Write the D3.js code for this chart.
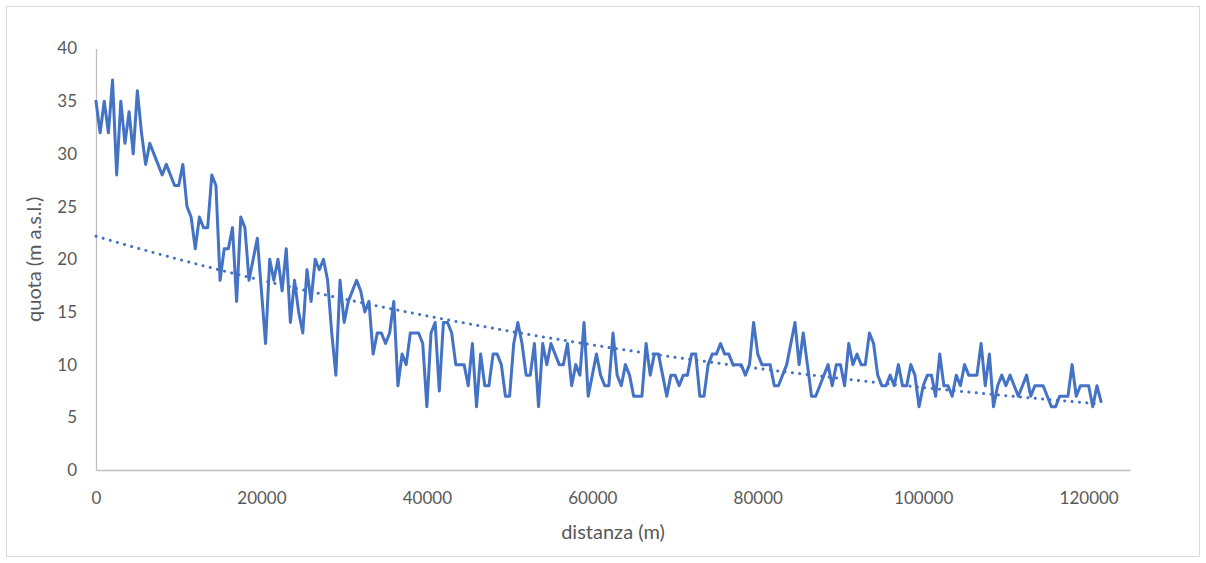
<!DOCTYPE html>
<html>
<head>
<meta charset="utf-8">
<script src="https://cdn.jsdelivr.net/npm/d3@7"></script>
<style>
  html, body { margin: 0; padding: 0; background: #fff; }
  svg { display: block; }
</style>
</head>
<body>
<svg id="chart" width="1206" height="563"></svg>
<script>
// ---- data ----
const distanza = [
  0,500,1000,1500,2000,2500,3000,3500,4000,4500,5000,5500,6000,6500,7000,7500,8000,8500,9000,9500,
  10000,10500,11000,11500,12000,12500,13000,13500,14000,14500,15000,15500,16000,16500,17000,17500,18000,18500,19000,19500,
  20000,20500,21000,21500,22000,22500,23000,23500,24000,24500,25000,25500,26000,26500,27000,27500,28000,28500,29000,29500,
  30000,30500,31000,31500,32000,32500,33000,33500,34000,34500,35000,35500,36000,36500,37000,37500,38000,38500,39000,39500,
  40000,40500,41000,41500,42000,42500,43000,43500,44000,44500,45000,45500,46000,46500,47000,47500,48000,48500,49000,49500,
  50000,50500,51000,51500,52000,52500,53000,53500,54000,54500,55000,55500,56000,56500,57000,57500,58000,58500,59000,59500,
  60000,60500,61000,61500,62000,62500,63000,63500,64000,64500,65000,65500,66000,66500,67000,67500,68000,68500,69000,69500,
  70000,70500,71000,71500,72000,72500,73000,73500,74000,74500,75000,75500,76000,76500,77000,77500,78000,78500,79000,79500,
  80000,80500,81000,81500,82000,82500,83000,83500,84000,84500,85000,85500,86000,86500,87000,87500,88000,88500,89000,89500,
  90000,90500,91000,91500,92000,92500,93000,93500,94000,94500,95000,95500,96000,96500,97000,97500,98000,98500,99000,99500,
  100000,100500,101000,101500,102000,102500,103000,103500,104000,104500,105000,105500,106000,106500,107000,107500,108000,108500,109000,109500,
  110000,110500,111000,111500,112000,112500,113000,113500,114000,114500,115000,115500,116000,116500,117000,117500,118000,118500,119000,119500,
  120000,120500,121000,121500
];
const quota = [
  35,32,35,32,37,28,35,31,34,30,36,32,29,31,30,29,28,29,28,27,
  27,29,25,24,21,24,23,23,28,27,18,21,21,23,16,24,23,18,20,22,
  17,12,20,18,20,17,21,14,18,15,13,19,16,20,19,20,18,13,9,18,
  14,16,17,18,17,15,16,11,13,13,12,13,16,8,11,10,13,13,13,12,
  6,13,14,7.5,14,14,13,10,10,10,8,12,6,11,8,8,11,11,10,7,
  7,12,14,12,9,9,12,6,12,10,12,11,10,10,12,8,10,9,14,7,
  9,11,9,8,8,13,9,8,10,9,7,7,7,12,9,11,11,9,7,9,
  9,8,9,9,11,11,7,7,10,11,11,12,11,11,10,10,10,9,10,14,
  11,10,10,10,8,8,9,10,12,14,10,13,10,7,7,8,9,10,8,10,
  10,8,12,10,11,10,10,13,12,9,8,8,9,8,10,8,8,10,9,6,
  8,9,9,7,11,8,8,7,9,8,10,9,9,9,12,8,11,6,8,9,
  8,9,8,7,8,9,7,8,8,8,7,6,6,7,7,7,10,7,8,8,
  8,6,8,6.5
];
const xTicks = [0, 20000, 40000, 60000, 80000, 100000, 120000];
const yTicks = [0, 5, 10, 15, 20, 25, 30, 35, 40];
const xTitle = "distanza (m)";
const yTitle = "quota (m a.s.l.)";

// ---- layout ----
const svg = d3.select("#chart");
const plot = { left: 96, right: 1130, top: 48.5, bottom: 470 };
const font = "Lato, 'Liberation Sans', sans-serif";
const blue = "#4472C4";

svg.append("rect")
  .attr("x", 6.5).attr("y", 6.5).attr("width", 1193).attr("height", 550)
  .attr("fill", "#fff").attr("stroke", "#D9D9D9").attr("stroke-width", 1);

const x = d3.scaleLinear().domain([0, 125000]).range([plot.left, plot.right]);
const y = d3.scaleLinear().domain([0, 40]).range([plot.bottom, plot.top]);

// axes
const xAxis = d3.axisBottom(x).tickValues(xTicks).tickSize(0).tickPadding(22).tickFormat(d3.format("d"));
const yAxis = d3.axisLeft(y).tickValues(yTicks).tickSize(0).tickPadding(19).tickFormat(d3.format("d"));

const gx = svg.append("g").attr("transform", `translate(0,${plot.bottom})`).call(xAxis);
const gy = svg.append("g").attr("transform", `translate(${plot.left},0)`).call(yAxis);
[gx, gy].forEach(g => {
  g.select(".domain").attr("stroke", "#BFBFBF").attr("stroke-width", 1.3);
  g.selectAll("text").attr("fill", "#595959").style("font-family", font).style("font-size", "17px");
});

// data line
const pts = distanza.map((d, i) => ({ d, q: quota[i] }));
const line = d3.line().x(p => x(p.d)).y(p => y(p.q));
svg.append("path").datum(pts)
  .attr("d", line)
  .attr("fill", "none").attr("stroke", blue).attr("stroke-width", 3)
  .attr("stroke-linejoin", "round").attr("stroke-linecap", "round");

// exponential trendline (least squares on ln y, like a spreadsheet trendline)
const mx = d3.mean(pts, p => p.d);
const ml = d3.mean(pts, p => Math.log(p.q));
const b = d3.sum(pts, p => (p.d - mx) * (Math.log(p.q) - ml)) / d3.sum(pts, p => (p.d - mx) ** 2);
const a = Math.exp(ml - b * mx);
const xmin = d3.min(distanza), xmax = d3.max(distanza);
const trendPts = d3.range(0, 201).map(k => {
  const xd = xmin + (xmax - xmin) * k / 200;
  return { d: xd, q: a * Math.exp(b * xd) };
});
svg.append("path").datum(trendPts)
  .attr("d", line)
  .attr("fill", "none").attr("stroke", blue).attr("stroke-width", 3)
  .attr("stroke-dasharray", "0.1 7.3").attr("stroke-linecap", "round");

// titles
svg.append("text")
  .attr("x", (plot.left + plot.right) / 2).attr("y", 539)
  .attr("text-anchor", "middle").attr("fill", "#595959")
  .style("font-family", font).style("font-size", "20px")
  .text(xTitle);
svg.append("text")
  .attr("transform", `translate(41,${(plot.top + plot.bottom) / 2}) rotate(-90)`)
  .attr("text-anchor", "middle").attr("fill", "#595959")
  .style("font-family", font).style("font-size", "20px")
  .text(yTitle);
</script>
</body>
</html>
